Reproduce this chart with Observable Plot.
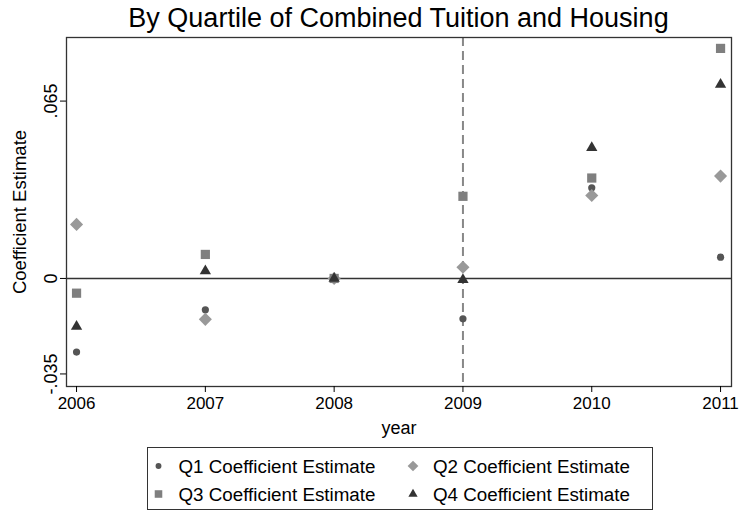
<!DOCTYPE html>
<html>
<head>
<meta charset="utf-8">
<script src="https://cdn.jsdelivr.net/npm/d3@7"></script>
<script src="https://cdn.jsdelivr.net/npm/@observablehq/plot@0.6"></script>
<style>
  body { margin: 0; background: #fff; }
  #wrap { position: relative; width: 741px; height: 516px; background: #fff; font-family: "Liberation Sans", Arial, sans-serif; }
  #title { position: absolute; left: 0; top: 1px; width: 797px; text-align: center; font-size: 27px; line-height: 34px; color: #000; }
  #chart { position: absolute; left: 0; top: 0; }
  #legend { position: absolute; left: 0; top: 0; }
</style>
</head>
<body>
<div id="wrap">
  <div id="chart"></div>
  <div id="title">By Quartile of Combined Tuition and Housing</div>
  <div id="legend"></div>
</div>
<script>
const years = [2006, 2007, 2008, 2009, 2010, 2011];
const q1 = [-0.0270, -0.0115, 0.0000, -0.0148, 0.0332, 0.0078];
const q2 = [0.0198, -0.0150, 0.0000, 0.0041, 0.0304, 0.0375];
const q3 = [-0.0054, 0.0088, 0.0000, 0.0301, 0.0368, 0.0843];
const q4 = [-0.0176, 0.0027, 0.0000, -0.0005, 0.0479, 0.0711];
const seriesNames = ["Q1 Coefficient Estimate", "Q2 Coefficient Estimate", "Q3 Coefficient Estimate", "Q4 Coefficient Estimate"];
const yTicks = [-0.035, 0, 0.065];
const yTickLabels = ["-.035", "0", ".065"];

const styles = [
  {symbol: "circle", fill: "#555555", r: 3.6},
  {symbol: "diamond2", fill: "#999999", r: 5.9},
  {symbol: "square", fill: "#7f7f7f", r: 5.2},
  {symbol: "triangle", fill: "#333333", r: 4.2}
];
const allSeries = [q1, q2, q3, q4];
const rows = (vals) => years.map((yr, i) => ({year: yr, value: vals[i]}));

const dotMarks = allSeries.map((vals, k) =>
  Plot.dot(rows(vals), {x: "year", y: "value", symbol: () => styles[k].symbol, fill: styles[k].fill, r: styles[k].r, stroke: "none"})
);

const chart = Plot.plot({
  width: 741,
  height: 440,
  marginTop: 37,
  marginBottom: 54,
  marginLeft: 66,
  marginRight: 10,
  style: {fontFamily: "'Liberation Sans', Arial, sans-serif", fontSize: "18px", background: "white", color: "#000"},
  symbol: {type: "identity"},
  x: {domain: [2005.922, 2011.085]},
  y: {domain: [-0.0396, 0.0883]},
  marks: [
    Plot.ruleY([0], {stroke: "#333", strokeWidth: 1.6}),
    Plot.ruleX([2009], {stroke: "#888", strokeWidth: 2, strokeDasharray: "9,5"}),
    Plot.frame({stroke: "#333", strokeWidth: 1.3}),
    Plot.axisX({ticks: years, tickFormat: d => String(d), tickSize: 6, tickPadding: 4, label: null, fontSize: 17}),
    Plot.axisY({ticks: yTicks, tickFormat: (d) => yTickLabels[yTicks.indexOf(d)], tickSize: 6, tickRotate: -90, tickPadding: 4, label: null, fontSize: 18}),
    Plot.text(["year"], {frameAnchor: "bottom", lineAnchor: "middle", dy: 42, fontSize: 18, fill: "#000"}),
    Plot.text(["Coefficient Estimate"], {frameAnchor: "left", textAnchor: "middle", dx: -46, rotate: -90, fontSize: 18.5, fill: "#000"}),
    ...dotMarks
  ]
});
document.getElementById("chart").appendChild(chart);

// Legend
const lg = d3.select("#legend").append("svg").attr("width", 741).attr("height", 516);
lg.append("rect").attr("x", 147.5).attr("y", 447.5).attr("width", 505).attr("height", 62)
  .attr("fill", "white").attr("stroke", "#333").attr("stroke-width", 1);
const pos = [[158.5, 466], [413, 466], [158.5, 494], [413, 494]];
const symMap = {circle: d3.symbolCircle, diamond2: d3.symbolDiamond2, square: d3.symbolSquare, triangle: d3.symbolTriangle};
[0, 1, 2, 3].forEach((k) => {
  const [sx, sy] = pos[k];
  const st = styles[k];
  lg.append("path")
    .attr("d", d3.symbol(symMap[st.symbol], Math.PI * (st.r * 0.82) ** 2)())
    .attr("transform", `translate(${sx},${sy})`)
    .attr("fill", st.fill);
  lg.append("text").attr("x", sx + 20).attr("y", sy).attr("dy", "0.35em")
    .attr("font-size", 18.8).attr("font-family", "'Liberation Sans', Arial, sans-serif")
    .text(seriesNames[k]);
});
</script>
</body>
</html>
